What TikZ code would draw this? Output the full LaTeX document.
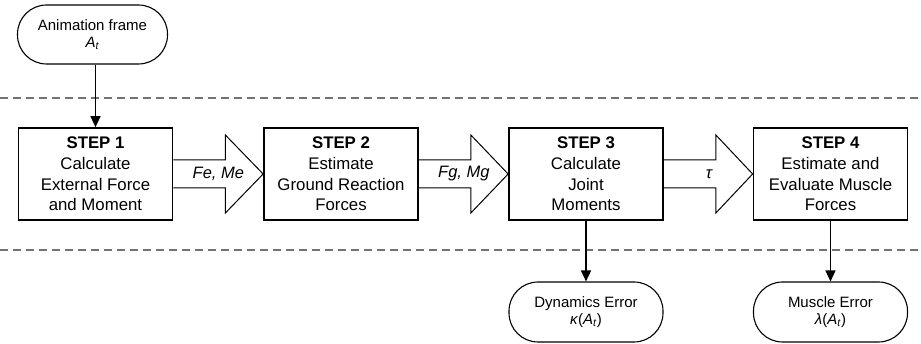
\documentclass[tikz,border=0pt]{standalone}
\usepackage{fontspec}
\setmainfont{Liberation Sans}
\usetikzlibrary{arrows.meta,calc}
\newcommand\fatarrow[3]{%
  \draw[fatarrow] ($(#1.east)+(0,-14)$) -- ($(#1.east)+(52,-14)$) -- ($(#1.east)+(52,-39)$)
    -- (#2.west) -- ($(#1.east)+(52,39)$) -- ($(#1.east)+(52,14)$) -- ($(#1.east)+(0,14)$);
  \node[arrowlabel] (#1lab) at ($(#1.east)+(45,0)$) {#3};
}
\begin{document}
\begin{tikzpicture}[x=1pt,y=-1pt,
  stepbox/.style={draw, line width=1.7pt, minimum width=154pt, minimum height=92pt,
    align=center, inner sep=0pt, font=\fontsize{16.8}{20.8}\selectfont},
  term/.style={draw, line width=1.1pt, rounded corners=29pt, minimum width=150pt,
    minimum height=59pt, align=center, inner sep=0pt, font=\fontsize{15}{16.5}\selectfont},
  fatarrow/.style={draw, line width=1pt, line join=miter},
  arrowlabel/.style={font=\fontsize{16.5}{18}\selectfont\itshape, inner sep=0pt},
  conn/.style={line width=1.4pt, -{Triangle[length=11pt,width=10pt]}},
  sep/.style={draw=black!55, line width=1.2pt, dash pattern=on 8pt off 5pt}
]
\useasboundingbox (0,0) rectangle (921,344);

\draw[sep] (0,98) -- (921,98);
\draw[sep] (0,250) -- (921,250);

\node[term] (t0) at (92.5,34.5) {Animation frame\\\textit{A}\textsubscript{\textit{t}}};

\node[stepbox] (s1) at (95.5,174) {\textbf{STEP 1}\\Calculate\\External Force\\and Moment};
\node[stepbox] (s2) at (341,174) {\textbf{STEP 2}\\Estimate\\Ground Reaction\\Forces};
\node[stepbox] (s3) at (586,174) {\textbf{STEP 3}\\Calculate\\Joint\\Moments};
\node[stepbox] (s4) at (830.5,174) {\textbf{STEP 4}\\Estimate and\\Evaluate Muscle\\Forces};

\node[term, minimum width=154pt, minimum height=60pt] (t1) at (586,312)
  {Dynamics Error\\\textit{κ}(\textit{A}\textsubscript{\textit{t}})};
\node[term, minimum width=154pt, minimum height=60pt] (t2) at (830.5,312)
  {Muscle Error\\\textit{λ}(\textit{A}\textsubscript{\textit{t}})};

\fatarrow{s1}{s2}{Fe, Me}
\fatarrow{s2}{s3}{Fg, Mg}
\fatarrow{s3}{s4}{τ}

\draw[conn] (t0.south -| s1.north) -- (s1.north);
\draw[conn] (s3.south) -- (t1.north);
\draw[conn] (s4.south) -- (t2.north);
\end{tikzpicture}
\end{document}
